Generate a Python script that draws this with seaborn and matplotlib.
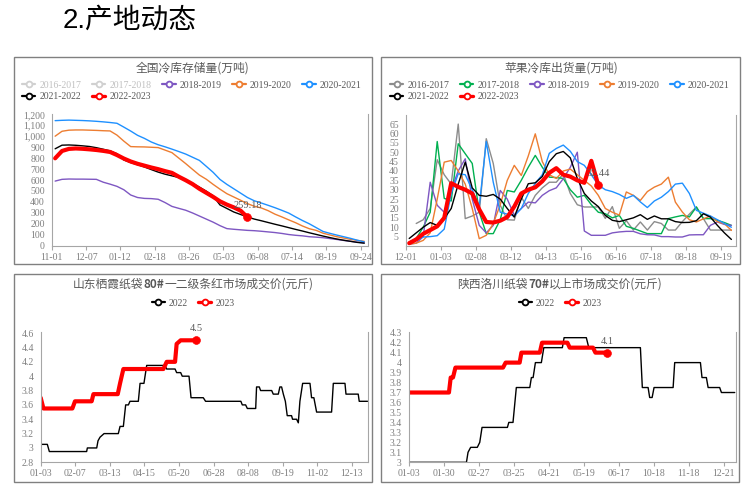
import numpy as np
import pandas as pd
import matplotlib
matplotlib.use("Agg")
import matplotlib.pyplot as plt
import seaborn as sns
from matplotlib.lines import Line2D
from matplotlib.patches import Rectangle

# ---------------- data ----------------
# national cold-storage stock (10k t), weekly from 11-01
stock_ticks = ['11-01', '12-07', '01-12', '02-18', '03-26', '05-03', '06-08', '07-14', '08-19', '09-24']
stock_2018 = [590, 606, 609, 608, 608, 607, 606, 580, 562, 542, 511, 463, 440, 432, 430, 424,
              394, 359, 341, 324, 299, 271, 243, 215, 183, 156, 150, 145, 140, 137, 132, 126,
              120, 112, 102, 95, 90, 82, 78, 73, 65, 57, 48, 40, 32, 27]
stock_2019 = [1000, 1045, 1055, 1057, 1057, 1055, 1053, 1050, 1048, 1010, 955, 905, 903, 902, 899, 896,
              873, 850, 800, 750, 697, 645, 607, 560, 516, 475, 445, 415, 384, 360, 345, 320,
              288, 263, 236, 210, 180, 155, 140, 114, 98, 82, 70, 58, 48, 40]
stock_2020 = [1142, 1145, 1147, 1145, 1143, 1140, 1136, 1131, 1125, 1118, 1083, 1047, 1008, 980, 947, 922,
              903, 882, 860, 837, 808, 779, 725, 670, 605, 560, 520, 480, 440, 410, 390, 369,
              347, 323, 298, 263, 230, 200, 165, 130, 113, 97, 82, 67, 50, 35]
stock_2021 = [885, 918, 920, 917, 912, 906, 895, 881, 866, 840, 783, 759, 740, 719, 695, 672,
              653, 638, 623, 598, 568, 535, 498, 455, 372, 340, 308, 285, 262, 243, 228, 212,
              196, 181, 165, 149, 134, 118, 103, 88, 74, 61, 50, 40, 30, 23]
stock_2022 = [798, 865, 884, 888, 885, 880, 874, 866, 856, 828, 796, 769, 748, 731, 714, 699,
              681, 665, 630, 598, 563, 520, 483, 446, 405, 375, 350, 320, 259.18]

# apple cold-storage shipments (10k t), weekly from 12-01
ship_ticks = ['12-01', '01-03', '02-08', '03-12', '04-13', '05-16', '06-16', '07-18', '08-18', '09-19']
ship_2016 = [np.nan, 12, 14, 20, 46, 38, 33, 65, 14.6, 16, 18, 57.2, 44, 21.7, 14, 13.8,
             26, 20, 27, 31, 34, 34, 38.5, 28, 22, 20.8, 20.8, 20.8, 14.7, 21, 9.4, 13.5,
             8.5, 12.8, 8.5, 13, 12, 8.5, 8.5, 13, 17, 20.8, 14.6, 8.5, 8.5, 8.5, 8.5]
ship_2017 = [2, 4, 10, 18, 55.7, 25.4, 24, 54.5, 49.2, 44, 18, 6.6, 6.6, 14, 29.6, 28.8,
             35, 42, 48.3, 42, 36.7, 36.5, 36, 30, 26, 27, 22, 18, 17.2, 15, 16.3, 10.5,
             9.4, 8, 6.6, 6.6, 6.6, 14.6, 15.5, 16.3, 15.5, 20.8, 14.6, 14.6, 13.7, 12.5, 11]
ship_2018 = [1, 1.5, 5, 34, 21.7, 18, 30, 40, 46.5, 25, 11, 7, 11, 29.6, 25, 16.5,
             20, 23.4, 23, 27, 29.5, 31, 35.9, 42, 50, 8, 5.7, 5.7, 5.7, 7, 7.5, 7.8,
             7.8, 6.5, 6, 5.9, 5, 5, 4.8, 4.8, 5.9, 6, 6, 11, 12.8, 11.5, 11]
ship_2019 = [1, 1.5, 3, 7, 25, 44.7, 45.6, 40, 33, 20, 3.9, 5.7, 12, 22, 35, 43,
             37.6, 48, 59.8, 45, 38, 36, 40, 41, 38, 35, 32, 27, 20, 18, 16.5, 28.8,
             27, 24.3, 29, 31.4, 33, 36.7, 23.4, 18.1, 14, 12.8, 14.5, 16, 13, 11.9, 8.3]
ship_2020 = [np.nan, 3, 4.8, 5, 5.5, 9, 28, 38.5, 38, 30, 21, 55.7, 34, 18, 17, 16,
             20, 28, 33.4, 38, 49.4, 52, 53.8, 50.5, 45, 43, 38, 32.5, 30, 29, 27.5, 25.4,
             27, 23.5, 20.5, 24, 26, 29, 33, 33.5, 28, 19, 17.5, 16, 14, 12, 10]
ship_2021 = [4, 7, 10, 12.5, 11, 14.6, 20, 33, 44.7, 31, 27, 26.5, 27.5, 25, 20, 15.4,
             25, 33.2, 33.7, 37, 45, 49.2, 50.4, 47, 36, 28, 24, 21, 16.3, 13.7, 13, 14,
             15, 16.7, 14.2, 16, 14.5, 14.5, 13, 12.5, 12.6, 13.5, 17.2, 15.4, 11, 7, 3.5]
ship_2022 = [1.5, 3.5, 6.5, 8.5, 10.5, 15, 33.5, 31.5, 30, 28, 19.5, 12.8, 12.5, 13.5, 15.4, 21,
             28, 30, 31.3, 34.5, 39, 41.5, 38, 37, 35, 33.7, 45.4, 32.44]

# Shandong Qixia paper-bag 80# price (yuan/jin), trading-day index
sd_ticks = ['01-03', '02-07', '03-13', '04-15', '05-20', '06-28', '08-08', '09-19', '11-02', '12-13']
sd_2022_day = [0, 4.6, 6.0, 31.9, 32.4, 38.9, 39.8, 41.2, 44.0, 53.9, 55.1, 57.4, 59.0, 60.9, 62.0,
               67.8, 69.0, 71.7, 73.6, 86.3, 87.5, 93.3, 94.4, 97.2, 98.3, 103.0, 104.4, 112.9,
               114.5, 139.0, 140.0, 142.3, 143.5, 149.3, 149.9, 151.8, 152.7, 160.4, 161.5, 165.0,
               166.1, 167.3, 168.5, 169.9, 171.2, 174.2, 174.9, 177.7, 178.9, 180.0, 181.9, 187.0,
               188.1, 189.7, 191.6, 202.0, 203.2, 211.3, 212.0, 220.5, 221.2, 227.0]
sd_2022 = [3.05, 3.05, 2.95, 2.95, 3.0, 3.0, 3.1, 3.15, 3.2, 3.2, 3.3, 3.3, 3.6, 3.6, 3.65,
           3.65, 3.9, 3.9, 4.15, 4.15, 4.1, 4.1, 4.05, 4.05, 4.0, 4.0, 3.7, 3.7,
           3.65, 3.65, 3.6, 3.6, 3.55, 3.55, 3.85, 3.85, 3.8, 3.8, 3.75, 3.75,
           3.85, 3.85, 3.75, 3.65, 3.45, 3.45, 3.4, 3.4, 3.35, 3.65, 3.9, 3.9,
           3.7, 3.7, 3.5, 3.5, 3.9, 3.9, 3.75, 3.75, 3.65, 3.65]
sd_2023_day = [0, 1.9, 22.0, 23.8, 35.4, 36.6, 53.5, 55.1, 57.4, 85.2, 87.5, 93.3, 94.4, 97.2, 107.8]
sd_2023 = [3.7, 3.55, 3.55, 3.65, 3.65, 3.75, 3.75, 3.9, 4.1, 4.1, 4.2, 4.2, 4.45, 4.5, 4.5]

# Shaanxi Luochuan paper-bag 70#+ price (yuan/jin), trading-day index
sx_ticks = ['01-03', '01-30', '02-27', '03-25', '04-21', '05-19', '06-17', '10-18', '11-18', '12-21']
sx_2022_day = [0, 33.0, 33.9, 35.4, 39.2, 40.6, 41.9, 56.4, 57.2, 59.6, 61.5, 69.2, 70.1, 71.1, 72.4,
               75.8, 77.2, 87.8, 88.8, 101.5, 102.9, 132.4, 133.5, 136.8, 137.7, 139.1, 140.2,
               151.1, 152.0, 166.7, 167.6, 170.1, 171.1, 177.7, 178.7, 186.3]
sx_2022 = [3.0, 3.0, 3.1, 3.15, 3.15, 3.2, 3.35, 3.35, 3.4, 3.4, 3.75, 3.75, 3.85, 3.85, 4.0,
           4.0, 4.15, 4.15, 4.25, 4.25, 4.15, 4.15, 3.75, 3.75, 3.65, 3.65, 3.75,
           3.75, 4.0, 4.0, 3.85, 3.85, 3.75, 3.75, 3.7, 3.7]
sx_2023_day = [0, 23.0, 24.0, 25.3, 26.7, 53.9, 55.4, 63.4, 64.4, 74.9, 76.2, 90.7, 92.0, 105.3, 106.7, 113.5]
sx_2023 = [3.7, 3.7, 3.85, 3.85, 3.95, 3.95, 4.0, 4.0, 4.1, 4.1, 4.2, 4.2, 4.15, 4.15, 4.1, 4.1]

season_names = ['2016-2017', '2017-2018', '2018-2019', '2019-2020', '2020-2021', '2021-2022', '2022-2023']
season_colors = ['#8c8c8c', '#00b050', '#7e57c2', '#ed7d31', '#1e90ff', '#000000', '#ff0000']

# ---------------- style ----------------
sns.set_theme(style="white")
plt.rcParams["font.family"] = ["Liberation Serif", "Noto Sans CJK SC"]
plt.rcParams["axes.unicode_minus"] = False
CJK = ["Noto Sans CJK SC", "DejaVu Sans"]
TXT = '#595959'
TICK = '#7f7f7f'
AXIS = '#a6a6a6'

W, H = 750, 492
fig = plt.figure(figsize=(W / 100, H / 100), dpi=100)


def px_axes(l, t, r, b):
    return fig.add_axes([l / W, 1 - b / H, (r - l) / W, (b - t) / H])


def frame(l, t, r, b):
    fig.patches.append(Rectangle((l / W, 1 - b / H), (r - l) / W, (b - t) / H,
                                 transform=fig.transFigure, fill=False,
                                 edgecolor='#808080', linewidth=1.0))


def style(ax):
    ax.set_facecolor('none')
    ax.grid(False)
    for s in ['left', 'bottom', 'right']:
        ax.spines[s].set_visible(True)
        ax.spines[s].set_color(AXIS)
        ax.spines[s].set_linewidth(0.8)
    ax.spines['top'].set_visible(False)
    ax.tick_params(axis='x', bottom=True, length=3, width=0.8, color=AXIS, direction='out',
                   labelsize=7, labelcolor=TICK, pad=2)
    ax.tick_params(axis='y', left=False, length=0, labelsize=7, labelcolor=TICK, pad=5)
    ax.set_xlabel('')
    ax.set_ylabel('')


def draw(ax, x, y, color, lw):
    df = pd.DataFrame({'x': x, 'y': y}).dropna()
    sns.lineplot(data=df, x='x', y='y', ax=ax, color=color, linewidth=lw, errorbar=None)


def end_point(ax, x, y, label):
    sns.scatterplot(x=[x], y=[y], ax=ax, color='#ff0000', s=32, edgecolor='#ff0000', zorder=6)
    ax.annotate(label, (x, y), xytext=(0, 8.3), textcoords='offset points', ha='center',
                va='center', fontsize=7.5, color=TXT)


def handle(c, lw=1.6):
    return Line2D([], [], color=c, linewidth=lw, marker='o', markersize=4.2,
                  markerfacecolor='white', markeredgecolor=c, markeredgewidth=1.3)


def season_legend(ax, x0, y0, faded=()):
    hs = [handle('#d0d0d0' if i in faded else c, 2.4 if i == 6 else 1.6)
          for i, c in enumerate(season_colors)]
    order = [0, 5, 1, 6, 2, 3, 4]
    leg = ax.legend([hs[i] for i in order], [season_names[i] for i in order],
                    loc='upper left', bbox_to_anchor=(x0 / W, 1 - y0 / H),
                    bbox_transform=fig.transFigure, ncol=5, frameon=False, fontsize=7,
                    handlelength=1.4, handletextpad=0.4, columnspacing=1.1,
                    labelspacing=0.3, borderpad=0, borderaxespad=0)
    for t, i in zip(leg.get_texts(), order):
        t.set_color('#c0c0c0' if i in faded else TXT)


def year_legend(ax, cx, cy):
    ax.legend([handle('#000000', 1.6), handle('#ff0000', 2.4)], ['2022', '2023'],
              loc='center', bbox_to_anchor=(cx / W, 1 - cy / H), bbox_transform=fig.transFigure,
              ncol=2, frameon=False, fontsize=7, handlelength=1.4, handletextpad=0.4,
              columnspacing=1.0, borderpad=0, borderaxespad=0, labelcolor=TXT)


def panel_title(cx, cy, text):
    fig.text(cx / W, 1 - cy / H, text, ha='center', va='center', fontsize=8.5,
             color=TXT, family=CJK)


# main heading
fig.text(63 / W, 1 - 21 / H, '2.产地动态', fontsize=20, color='black', ha='left', va='center',
         family=['Liberation Sans', 'Noto Sans CJK SC'])

# panel frames
frame(14, 57, 372, 264)
frame(381, 57, 740, 264)
frame(14, 274, 372, 482)
frame(381, 274, 739, 482)

# ---------------- panel 1: stock ----------------
ax1 = px_axes(51.7, 114.3, 367.7, 245.7)
for vals, ci in [(stock_2018, 2), (stock_2019, 3), (stock_2020, 4), (stock_2021, 5)]:
    draw(ax1, np.arange(len(vals)) + 0.5, vals, season_colors[ci], 1.0)
x22 = np.arange(len(stock_2022)) + 0.5
draw(ax1, x22, stock_2022, season_colors[6], 3.0)
end_point(ax1, x22[-1], stock_2022[-1], f'{stock_2022[-1]:.2f}')
style(ax1)
ax1.set_xlim(0, 46)
ax1.set_ylim(0, 1200)
ax1.set_xticks(np.arange(0, 50, 5))
ax1.set_xticklabels(stock_ticks)
yt = np.arange(0, 1201, 100)
ax1.set_yticks(yt)
ax1.set_yticklabels([f'{v:,}' for v in yt])
panel_title(193, 67.7, '全国冷库存储量(万吨)')
season_legend(ax1, 21.8, 80.5, faded=(0, 1))

# ---------------- panel 2: shipments ----------------
ax2 = px_axes(405.7, 114.7, 736.3, 246)
ship_all = [ship_2016, ship_2017, ship_2018, ship_2019, ship_2020, ship_2021]
for ci, vals in enumerate(ship_all):
    draw(ax2, np.arange(len(vals)) + 0.5, vals, season_colors[ci], 1.0)
xs22 = np.arange(len(ship_2022)) + 0.5
draw(ax2, xs22, ship_2022, season_colors[6], 3.0)
end_point(ax2, xs22[-1], ship_2022[-1], f'{ship_2022[-1]:.2f}')
style(ax2)
ax2.set_xlim(0, 47.2)
ax2.set_ylim(0, 70)
ax2.set_xticks(np.arange(0, 50, 5))
ax2.set_xticklabels(ship_ticks)
ax2.set_yticks(np.arange(5, 66, 5))
panel_title(561, 67.7, '苹果冷库出货量(万吨)')
season_legend(ax2, 389.8, 80.5)

# ---------------- panel 3: Shandong price ----------------
ax3 = px_axes(40.7, 331.7, 368.3, 462.3)
draw(ax3, sd_2022_day, sd_2022, '#000000', 1.0)
draw(ax3, sd_2023_day, sd_2023, '#ff0000', 3.0)
end_point(ax3, sd_2023_day[-1], sd_2023[-1], f'{sd_2023[-1]:g}')
style(ax3)
ax3.set_xlim(0, 227.5)
ax3.set_ylim(2.8, 4.62)
ax3.set_xticks(np.arange(0, 217, 24))
ax3.set_xticklabels(sd_ticks)
yt3 = np.round(np.arange(2.8, 4.61, 0.2), 1)
ax3.set_yticks(yt3)
ax3.set_yticklabels([f'{v:g}' for v in yt3])
year_legend(ax3, 193, 303)

# ---------------- panel 4: Shaanxi price ----------------
ax4 = px_axes(408.7, 331.7, 736.3, 462.3)
draw(ax4, sx_2022_day, sx_2022, '#000000', 1.0)
draw(ax4, sx_2023_day, sx_2023, '#ff0000', 3.0)
end_point(ax4, sx_2023_day[-1], sx_2023[-1], f'{sx_2023[-1]:g}')
style(ax4)
ax4.set_xlim(0, 187.2)
ax4.set_ylim(3.0, 4.31)
ax4.set_xticks(np.arange(0, 181, 20))
ax4.set_xticklabels(sx_ticks)
yt4 = np.round(np.arange(3.0, 4.31, 0.1), 1)
ax4.set_yticks(yt4)
ax4.set_yticklabels([f'{v:g}' for v in yt4])
year_legend(ax4, 560, 303)


# titles with a bold grade mark, centred after measuring
def mixed_title(ax, cx, cy, parts):
    kw = dict(fontsize=8.5, color=TXT, family=CJK)
    first = fig.text(0, 1 - (cy + 4.5) / H, parts[0][0], ha='left', va='baseline', **kw)
    pieces = [first]
    for txt, bold in parts[1:]:
        pieces.append(ax.annotate(txt, xy=(1, 0), xycoords=pieces[-1], ha='left', va='bottom',
                                  fontweight='bold' if bold else 'normal', **kw))
    return pieces


t3 = mixed_title(ax3, 193, 283.3, [('山东栖霞纸袋', False), ('80#', True), ('一二级条红市场成交价(元斤)', False)])
t4 = mixed_title(ax4, 560, 283.3, [('陕西洛川纸袋', False), ('70#', True), ('以上市场成交价(元斤)', False)])
fig.canvas.draw()
r = fig.canvas.get_renderer()
for pieces, cx in [(t3, 193), (t4, 560)]:
    x0 = pieces[0].get_window_extent(r).x0
    x1 = pieces[-1].get_window_extent(r).x1
    pieces[0].set_x((cx - (x1 - x0) / 2) / W)

fig.savefig('out.png', dpi=100)
